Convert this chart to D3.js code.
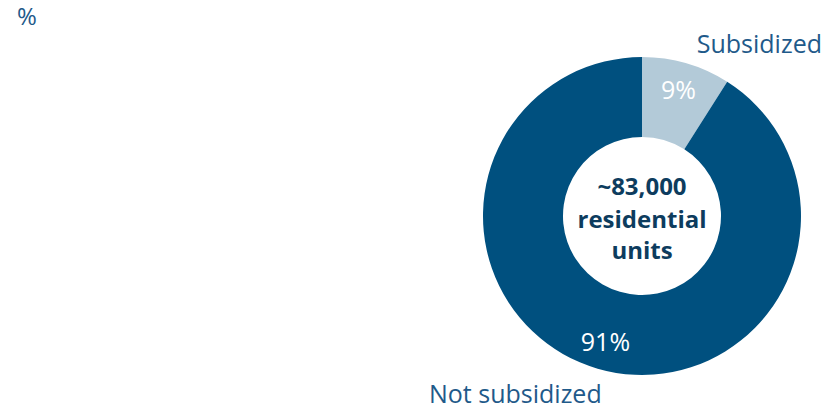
<!DOCTYPE html>
<html>
<head>
<meta charset="utf-8">
<script src="https://cdn.jsdelivr.net/npm/d3@7"></script>
<style>
  html, body { margin: 0; padding: 0; background: #fff; }
  svg { display: block; font-family: "Open Sans", "Noto Sans", sans-serif; }
</style>
</head>
<body>
<svg id="chart" width="828" height="411"></svg>
<script>
// Share of residential units by subsidy status
const categories = ["Subsidized", "Not subsidized"];
const shares = [9, 91];
const shareLabels = ["9%", "91%"];
const centerLines = ["~83,000", "residential", "units"];
const unitLabel = "%";

const colors = d3.scaleOrdinal().domain(categories).range(["#b3cad8", "#00507f"]);

const svg = d3.select("#chart");
const cx = 642, cy = 216, outerR = 159, innerR = 79, labelR = 131;

svg.append("text")
  .attr("x", 17).attr("y", 25)
  .attr("font-size", 24).attr("fill", "#1f5a8a")
  .text(unitLabel);

const data = categories.map((c, i) => ({ category: c, value: shares[i], label: shareLabels[i] }));

const pie = d3.pie().value(d => d.value).sort(null);
const arc = d3.arc().innerRadius(innerR).outerRadius(outerR);
const labelArc = d3.arc().innerRadius(labelR).outerRadius(labelR);

const g = svg.append("g").attr("transform", `translate(${cx},${cy})`);
const arcs = pie(data);

g.selectAll("path.slice")
  .data(arcs)
  .join("path")
  .attr("class", "slice")
  .attr("d", arc)
  .attr("fill", d => colors(d.data.category));

g.selectAll("text.pct")
  .data(arcs)
  .join("text")
  .attr("class", "pct")
  .attr("transform", d => `translate(${labelArc.centroid(d)})`)
  .attr("text-anchor", "middle")
  .attr("dy", "0.36em")
  .attr("font-size", 25)
  .attr("fill", "#ffffff")
  .text(d => d.data.label);

// Centre caption
const caption = g.append("text")
  .attr("text-anchor", "middle")
  .attr("font-size", 24)
  .attr("font-weight", "bold")
  .attr("fill", "#0d3c5e");
const lineY = [-21, 12, 43];
centerLines.forEach((line, i) => {
  caption.append("tspan").attr("x", 0).attr("y", lineY[i]).text(line);
});

// Category names outside the ring
svg.append("text")
  .attr("x", 822).attr("y", 53)
  .attr("text-anchor", "end")
  .attr("font-size", 25).attr("fill", "#1f5a8a")
  .text(categories[0]);

svg.append("text")
  .attr("x", 429).attr("y", 403)
  .attr("font-size", 25).attr("fill", "#1f5a8a")
  .text(categories[1]);
</script>
</body>
</html>
